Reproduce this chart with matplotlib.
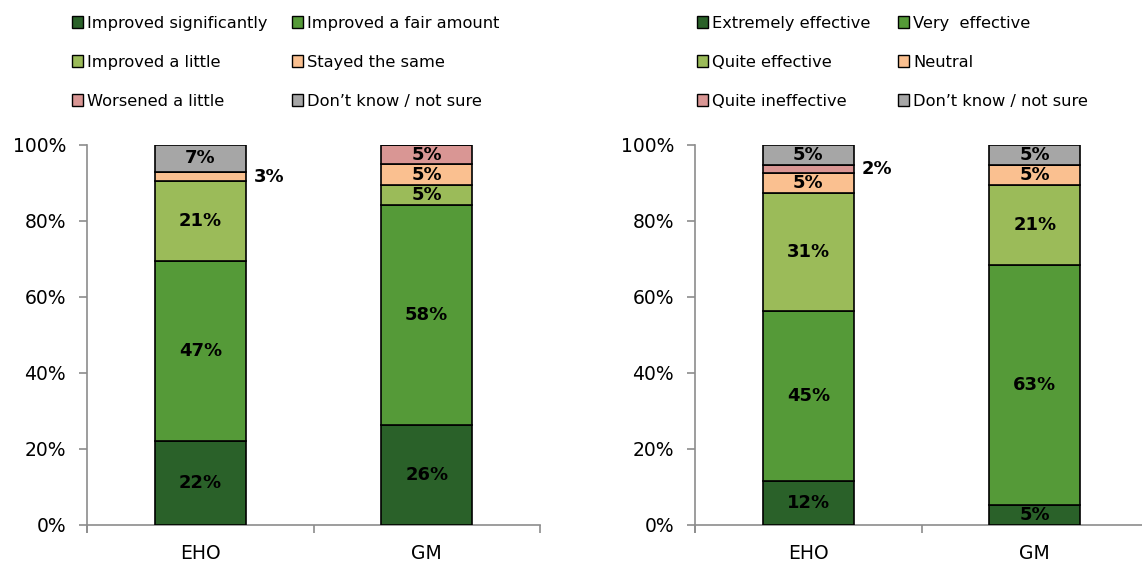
import matplotlib
matplotlib.use("Agg")
import matplotlib.pyplot as plt
import numpy as np
from matplotlib.patches import Patch

plt.rcParams["font.family"] = ["DejaVu Sans"]

groups = ["EHO", "GM"]

# change in hygiene standards
change_labels = [
    "Improved significantly",
    "Improved a fair amount",
    "Improved a little",
    "Stayed the same",
    "Worsened a little",
    "Don\u2019t know / not sure",
]
change_values = [
    [22.2, 26.3],   # Improved significantly
    [47.4, 57.8],   # Improved a fair amount
    [20.8, 5.4],    # Improved a little
    [2.6, 5.4],     # Stayed the same
    [0.0, 5.1],     # Worsened a little
    [7.0, 0.0],     # Don't know / not sure
]

# effectiveness rating
effect_labels = [
    "Extremely effective",
    "Very  effective",
    "Quite effective",
    "Neutral",
    "Quite ineffective",
    "Don\u2019t know / not sure",
]
effect_values = [
    [11.6, 5.3],    # Extremely effective
    [44.7, 63.2],   # Very effective
    [31.1, 21.0],   # Quite effective
    [5.3, 5.2],     # Neutral
    [2.0, 0.0],     # Quite ineffective
    [5.3, 5.3],     # Don't know / not sure
]

colors = ["#2a6129", "#559a38", "#9bbb59", "#fac090", "#d99694", "#a6a6a6"]

W, H = 1142, 562
fig = plt.figure(figsize=(W / 100, H / 100), dpi=100)


def stacked_panel(rect, values, labels, legend_xy, colspacing):
    ax = fig.add_axes(rect)
    x = np.arange(len(groups))
    width = 0.4
    bottom = np.zeros(len(groups))
    for vals, col in zip(values, colors):
        vals = np.asarray(vals, dtype=float)
        ax.bar(x, vals, width, bottom=bottom, color=col,
               edgecolor="black", linewidth=1.2, zorder=3)
        for i, v in enumerate(vals):
            if v <= 0:
                continue
            txt = f"{v:.0f}%"
            yc = bottom[i] + v / 2
            if v < 4:
                # thin slices get their label beside the bar
                ax.text(x[i] + width / 2 + 0.035, yc, txt, ha="left",
                        va="center", fontsize=13, fontweight="bold",
                        color="black")
            else:
                ax.text(x[i], yc, txt, ha="center", va="center",
                        fontsize=13, fontweight="bold", color="black")
        bottom += vals

    ax.set_xlim(-0.5, len(groups) - 0.5)
    ax.set_ylim(0, 100)
    ax.set_yticks(np.arange(0, 101, 20))
    ax.set_yticklabels([f"{t}%" for t in range(0, 101, 20)])
    # category boundaries carry the tick marks, centres carry the names
    ax.set_xticks(np.arange(-0.5, len(groups), 1.0))
    ax.set_xticklabels([])
    ax.set_xticks(x, minor=True)
    ax.set_xticklabels(groups, minor=True)
    ax.tick_params(axis="x", which="major", direction="out", length=6,
                   color="#8c8c8c", width=1.2)
    ax.tick_params(axis="x", which="minor", length=0, labelsize=13.5,
                   pad=14)
    ax.tick_params(axis="y", direction="out", length=6, color="#8c8c8c",
                   width=1.2, labelsize=13.5, pad=9)
    for side in ("top", "right"):
        ax.spines[side].set_visible(False)
    for side in ("left", "bottom"):
        ax.spines[side].set_color("#8c8c8c")
        ax.spines[side].set_linewidth(1.2)
    ax.spines["left"].set_bounds(-1.8, 100)

    handles = [Patch(facecolor=c, edgecolor="black", linewidth=1.0)
               for c in colors]
    order = [0, 2, 4, 1, 3, 5]
    fig.legend([handles[k] for k in order], [labels[k] for k in order],
               loc="upper left", bbox_to_anchor=legend_xy, ncol=2,
               frameon=False, fontsize=11.7, handlelength=0.7,
               handleheight=0.75, handletextpad=0.25, labelspacing=1.48,
               columnspacing=colspacing, borderpad=0, borderaxespad=0)
    return ax


ax_l = stacked_panel([87 / W, 37 / H, 453 / W, 380 / H], change_values,
                     change_labels, (71.5 / W, 1 - 16 / H), 1.5)
ax_r = stacked_panel([695 / W, 37 / H, 453 / W, 380 / H], effect_values,
                     effect_labels, (696.5 / W, 1 - 16 / H), 1.7)

fig.savefig("out.png", dpi=100)
